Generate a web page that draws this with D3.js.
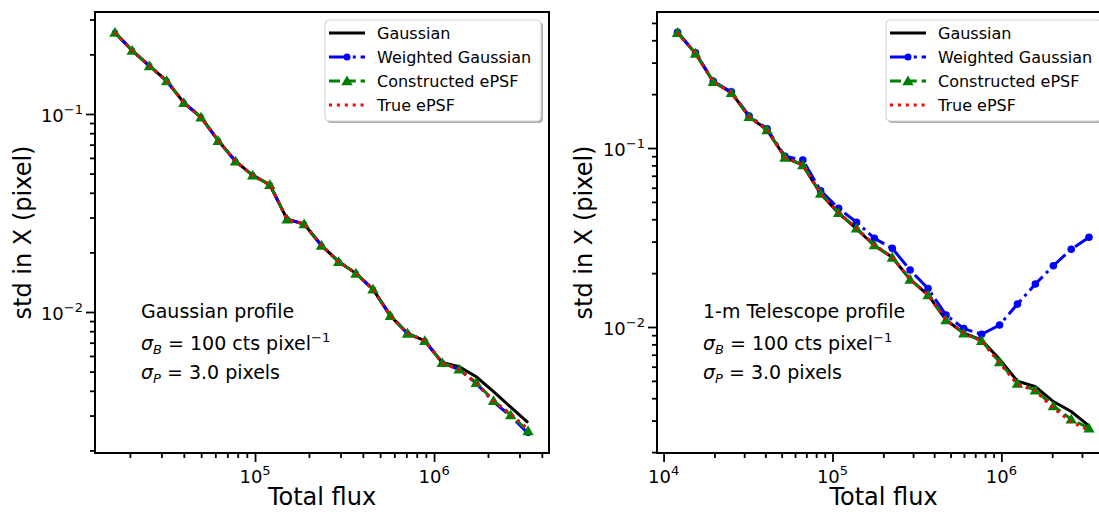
<!DOCTYPE html>
<html>
<head>
<meta charset="utf-8">
<script src="https://cdn.jsdelivr.net/npm/d3@7/dist/d3.min.js"></script>
<style>
    body { margin: 0; background: #fff; }
    svg { display: block; font-family: "DejaVu Sans", sans-serif; }
</style>
</head>
<body>
<script>
//Datos

const seriesNames = ["Gaussian", "Weighted Gaussian", "Constructed ePSF", "True ePSF"];

//Panel izquierdo (perfil gaussiano)
const leftFlux = [16500, 20600, 25700, 32100, 40000, 49900, 62300, 77800, 97000, 121000, 151000, 188000, 235000,
    293000, 366000, 456000, 570000, 711000, 887000, 1110000, 1380000, 1720000, 2150000, 2680000, 3350000];
const leftGauss = [0.258, 0.209, 0.175, 0.147, 0.114, 0.0962, 0.0733, 0.0577, 0.0490, 0.0439, 0.0294, 0.0278, 0.0217,
    0.01795, 0.01567, 0.01302, 0.00958, 0.00780, 0.00716, 0.00556, 0.00530, 0.00471, 0.00396, 0.00331, 0.00276];
const leftWeighted = [0.258, 0.209, 0.175, 0.147, 0.114, 0.0962, 0.0733, 0.0577, 0.0490, 0.0439, 0.0294, 0.0278, 0.0217,
    0.01795, 0.01567, 0.01302, 0.00958, 0.00780, 0.00716, 0.00554, 0.00512, 0.00436, 0.00352, 0.00298, 0.00244];
const leftEpsf = [0.258, 0.209, 0.175, 0.147, 0.114, 0.0962, 0.0733, 0.0577, 0.0490, 0.0439, 0.0294, 0.0278, 0.0217,
    0.01795, 0.01567, 0.01302, 0.00958, 0.00780, 0.00716, 0.00554, 0.00514, 0.00440, 0.00356, 0.00302, 0.00251];
const leftTrue = [0.258, 0.209, 0.175, 0.147, 0.114, 0.0962, 0.0733, 0.0577, 0.0490, 0.0439, 0.0294, 0.0278, 0.0217,
    0.01795, 0.01567, 0.01302, 0.00958, 0.00780, 0.00716, 0.00554, 0.00512, 0.00438, 0.00356, 0.00305, 0.00256];

//Panel derecho (perfil telescopio 1-m)
const rightFlux = [12100, 15450, 19700, 25200, 32100, 41000, 52300, 66700, 85100, 108700, 138700, 177000,
    226000, 288000, 368000, 470000, 599000, 764000, 975000, 1245000, 1589000, 2030000, 2590000, 3300000];
const rightGauss = [0.441, 0.338, 0.2345, 0.2037, 0.1496, 0.1261, 0.0887, 0.0803, 0.0555, 0.0433, 0.0354, 0.0285,
    0.0245, 0.01846, 0.01510, 0.01094, 0.00925, 0.00845, 0.00660, 0.00498, 0.00465, 0.00383, 0.00337, 0.00280];
const rightWeighted = [0.443, 0.340, 0.236, 0.206, 0.151, 0.128, 0.0900, 0.0857, 0.0577, 0.0460, 0.0385, 0.0313,
    0.0275, 0.0208, 0.0164, 0.01166, 0.00980, 0.00910, 0.01026, 0.01343, 0.01738, 0.0220, 0.0272, 0.0317];
const rightEpsf = [0.441, 0.338, 0.2345, 0.2037, 0.1496, 0.1261, 0.0887, 0.0803, 0.0558, 0.0435, 0.0356, 0.0287,
    0.0245, 0.01846, 0.01510, 0.01094, 0.00922, 0.00838, 0.00637, 0.00484, 0.00444, 0.00362, 0.00305, 0.00272];
const rightTrue = [0.441, 0.338, 0.2345, 0.2037, 0.1496, 0.1261, 0.0887, 0.0803, 0.0558, 0.0435, 0.0356, 0.0287,
    0.0245, 0.01846, 0.01510, 0.01094, 0.00922, 0.00835, 0.00630, 0.00478, 0.00440, 0.00352, 0.00295, 0.00265];

//Etiquetas de los ejes (exponentes)
const leftXMajor = [5, 6];
const leftYMajor = [-1, -2];
const rightXMajor = [4, 5, 6];
const rightYMajor = [-1, -2];

const notes = ["Gaussian profile", "1-m Telescope profile"];

//Tamaño
const [w, h] = [1099, 512];

//Estilo de cada serie
const styles = [
    { color: "#000000", dash: null, marker: null },
    { color: "#0000ff", dash: "19,4.8,3,4.8", marker: "circle" },
    { color: "#008000", dash: "11,4.8", marker: "triangle" },
    { color: "#ff0000", dash: "3,4.9", marker: null }
];

//Configuracion de los paneles
const panels = [
    {
        left: 95, right: 549, top: 12, bottom: 453,
        xDom: [Math.pow(10, 4.106), Math.pow(10, 6.642)],
        yDom: [Math.pow(10, -0.485), Math.pow(10, -2.712)],
        flux: leftFlux, series: [leftGauss, leftWeighted, leftEpsf, leftTrue],
        xMajor: leftXMajor, yMajor: leftYMajor, note: notes[0], yLabelX: 31, markerR: 3
    },
    {
        left: 657, right: 1110, top: 12, bottom: 453,
        xDom: [Math.pow(10, 3.961), Math.pow(10, 6.643)],
        yDom: [Math.pow(10, -0.240), Math.pow(10, -2.704)],
        flux: rightFlux, series: [rightGauss, rightWeighted, rightEpsf, rightTrue],
        xMajor: rightXMajor, yMajor: rightYMajor, note: notes[1], yLabelX: 592, markerR: 3.8
    }
];

const svg = d3.select("body")
    .append("svg")
    .attr("width", w)
    .attr("height", h);

//Etiqueta 10^n con superindice
function powLabel(sel, exp) {
    sel.append("tspan").text("10");
    sel.append("tspan").attr("dy", -8).attr("font-size", 13).text(exp < 0 ? "\u2212" + (-exp) : exp);
}

const isMajor = (v) => Math.abs(Math.log10(v) - Math.round(Math.log10(v))) < 1e-9;

function drawMarker(g, type, cx, cy, color, r) {
    if (type === "circle") {
        g.append("circle").attr("cx", cx).attr("cy", cy).attr("r", r).attr("fill", color);
    } else if (type === "triangle") {
        g.append("path")
            .attr("d", d3.symbol().type(d3.symbolTriangle).size(56)())
            .attr("transform", "translate(" + cx + "," + (cy + 1) + ")")
            .attr("fill", color);
    }
}

panels.forEach((p) => {
    const x = d3.scaleLog().domain(p.xDom).range([p.left, p.right]);
    const y = d3.scaleLog().domain(p.yDom).range([p.top, p.bottom]);

    const g = svg.append("g");

    //Ticks menores
    const xMinor = x.ticks().filter((v) => !isMajor(v));
    const yMinor = y.ticks().filter((v) => !isMajor(v));

    g.append("g")
        .attr("transform", "translate(0," + p.bottom + ")")
        .call(d3.axisBottom(x).tickValues(xMinor).tickSize(5).tickSizeOuter(0).tickFormat(""));
    g.append("g")
        .attr("transform", "translate(0," + p.bottom + ")")
        .call(d3.axisBottom(x).tickValues(p.xMajor.map((e) => Math.pow(10, e))).tickSize(9).tickSizeOuter(0).tickFormat(""));
    g.append("g")
        .attr("transform", "translate(" + p.left + ",0)")
        .call(d3.axisLeft(y).tickValues(yMinor).tickSize(5).tickSizeOuter(0).tickFormat(""));
    g.append("g")
        .attr("transform", "translate(" + p.left + ",0)")
        .call(d3.axisLeft(y).tickValues(p.yMajor.map((e) => Math.pow(10, e))).tickSize(9).tickSizeOuter(0).tickFormat(""));

    g.selectAll(".domain").remove();
    g.selectAll(".tick line").attr("stroke", "#000").attr("stroke-width", 1.8);

    //Etiquetas de los ticks
    p.xMajor.forEach((e) => {
        g.append("text")
            .attr("x", x(Math.pow(10, e)))
            .attr("y", p.bottom + 30)
            .attr("text-anchor", "middle")
            .attr("font-size", 18)
            .call(powLabel, e);
    });
    p.yMajor.forEach((e) => {
        g.append("text")
            .attr("x", p.left - 12)
            .attr("y", y(Math.pow(10, e)) + 8)
            .attr("text-anchor", "end")
            .attr("font-size", 18)
            .call(powLabel, e);
    });

    //Lineas de las series
    const line = d3.line()
        .x((d) => x(d[0]))
        .y((d) => y(d[1]));

    p.series.forEach((vals, k) => {
        const st = styles[k];
        const pts = p.flux.map((f, i) => [f, vals[i]]);
        g.append("path")
            .datum(pts)
            .attr("d", line)
            .attr("fill", "none")
            .attr("stroke", st.color)
            .attr("stroke-width", 3)
            .attr("stroke-dasharray", st.dash);
        if (st.marker) {
            pts.forEach((d) => drawMarker(g, st.marker, x(d[0]), y(d[1]), st.color, p.markerR));
        }
    });

    //Marco
    g.append("rect")
        .attr("x", p.left)
        .attr("y", p.top)
        .attr("width", p.right - p.left)
        .attr("height", p.bottom - p.top)
        .attr("fill", "none")
        .attr("stroke", "#000")
        .attr("stroke-width", 2);

    //Leyenda
    const lx = p.right - 8 - 216;
    const ly = p.top + 8;
    g.append("rect")
        .attr("x", lx + 2).attr("y", ly + 2)
        .attr("width", 216).attr("height", 101)
        .attr("rx", 4)
        .attr("fill", "#b0b0b0");
    g.append("rect")
        .attr("x", lx).attr("y", ly)
        .attr("width", 216).attr("height", 101)
        .attr("rx", 4)
        .attr("fill", "#fff")
        .attr("stroke", "#d0d0d0");

    seriesNames.forEach((name, k) => {
        const st = styles[k];
        const cy = ly + 13 + 24 * k;
        g.append("line")
            .attr("x1", lx + 4).attr("x2", lx + 40)
            .attr("y1", cy).attr("y2", cy)
            .attr("stroke", st.color)
            .attr("stroke-width", 3)
            .attr("stroke-dasharray", st.dash);
        if (st.marker) drawMarker(g, st.marker, lx + 22, cy, st.color, 3.5);
        g.append("text")
            .attr("x", lx + 52)
            .attr("y", cy + 6)
            .attr("font-size", 16)
            .text(name);
    });

    //Anotaciones
    const ax = p.left + 46;
    g.append("text").attr("x", ax).attr("y", 318).attr("font-size", 19).text(p.note);

    const t2 = g.append("text").attr("x", ax).attr("y", 350).attr("font-size", 19);
    t2.append("tspan").attr("font-style", "italic").text("\u03c3");
    t2.append("tspan").attr("font-style", "italic").attr("font-size", 13).attr("dy", 4).text("B");
    t2.append("tspan").attr("dy", -4).text(" = 100 cts pixel");
    t2.append("tspan").attr("dy", -8).attr("font-size", 13).text("\u22121");

    const t3 = g.append("text").attr("x", ax).attr("y", 379).attr("font-size", 19);
    t3.append("tspan").attr("font-style", "italic").text("\u03c3");
    t3.append("tspan").attr("font-style", "italic").attr("font-size", 13).attr("dy", 4).text("P");
    t3.append("tspan").attr("dy", -4).text(" = 3.0 pixels");

    //Titulos de los ejes
    g.append("text")
        .attr("x", (p.left + p.right) / 2)
        .attr("y", 505)
        .attr("text-anchor", "middle")
        .attr("font-size", 24)
        .text("Total flux");
    g.append("text")
        .attr("transform", "translate(" + p.yLabelX + "," + ((p.top + p.bottom) / 2) + ") rotate(-90)")
        .attr("text-anchor", "middle")
        .attr("font-size", 24)
        .text("std in X (pixel)");
});
</script>
</body>
</html>
